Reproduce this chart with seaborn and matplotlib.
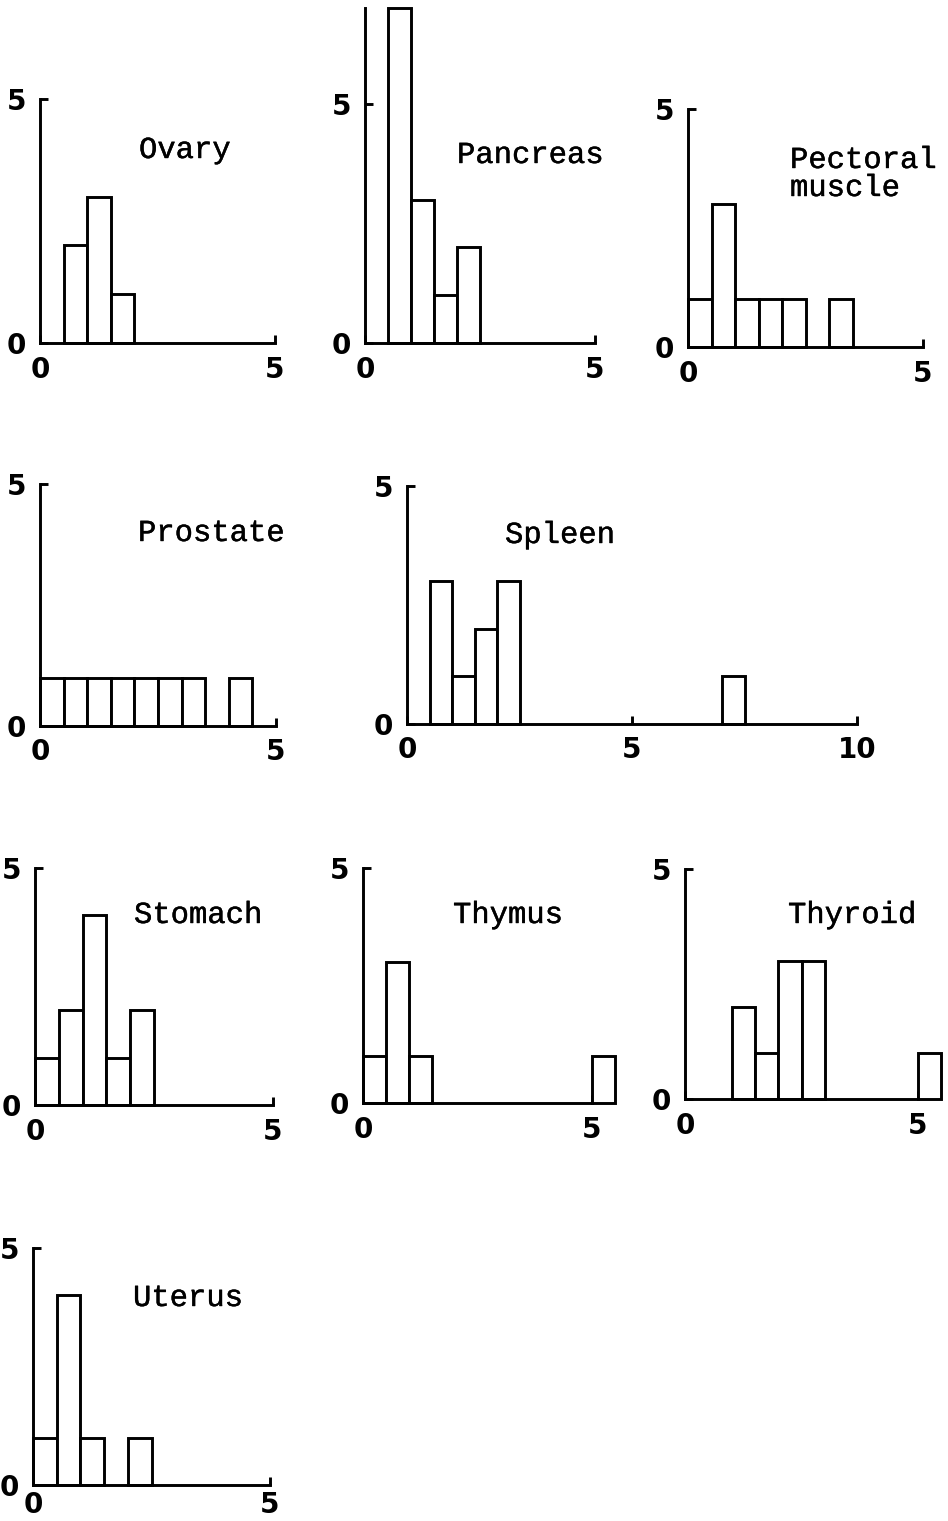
import numpy as np
import pandas as pd
import matplotlib
matplotlib.use("Agg")
import matplotlib.pyplot as plt
import matplotlib.patheffects as pe
import seaborn as sns

# ---------------- data (counts per 0.5-wide bin, starting at 0) ----------------
BIN = 0.5
tissues = ["Ovary", "Pancreas", "Pectoral\nmuscle", "Prostate", "Spleen",
           "Stomach", "Thymus", "Thyroid", "Uterus"]
ovary_counts = [0, 2, 3, 1]
pancreas_counts = [0, 7, 3, 1, 2]
pectoral_counts = [1, 3, 1, 1, 1, 0, 1]
prostate_counts = [1, 1, 1, 1, 1, 1, 1, 0, 1]
spleen_counts = [0, 3, 1, 2, 3, 0, 0, 0, 0, 0, 0, 0, 0, 0, 1]
stomach_counts = [1, 2, 4, 1, 2]
thymus_counts = [1, 3, 1, 0, 0, 0, 0, 0, 0, 0, 1]
thyroid_counts = [0, 0, 2, 1, 3, 3, 0, 0, 0, 0, 1]
uterus_counts = [1, 4, 1, 0, 1]
all_counts = [ovary_counts, pancreas_counts, pectoral_counts, prostate_counts,
              spleen_counts, stomach_counts, thymus_counts, thyroid_counts,
              uterus_counts]
x_tick_sets = [[0, 5], [0, 5], [0, 5], [0, 5], [0, 5, 10],
               [0, 5], [0, 5], [0, 5], [0, 5]]
y_ticks = [0, 5]

# ---------------- layout (pixels) ----------------
W, H = 948, 1521
# x at 0, x at axis end, axis end value, xlim max, y at 0, y at 5, ylim max
layout = [
    (40, 275, 5, 5.0, 343, 99, 5),
    (365, 595, 5, 5.0, 343, 104, 7),
    (688, 923, 5, 5.0, 347, 109, 5),
    (40, 276, 5, 5.0, 726, 484, 5),
    (407, 857, 10, 10.0, 724, 486, 5),
    (35, 273, 5, 5.0, 1105, 868, 5),
    (363, 592, 5, 5.5, 1103, 868, 5),
    (685, 918, 5, 5.5, 1099, 869, 5),
    (33, 270, 5, 5.0, 1485, 1248, 5),
]
x_pads = [9, 9, 9, 9, 9, 9, 9, 9, 4]
title_pos = [(139, 150), (457, 155), (790, 160), (138, 533), (505, 535),
             (134, 915), (453, 915), (788, 915), (133, 1298)]
LINE_GAP = 28

sns.set_style("ticks")
plt.rcParams["font.family"] = ["DejaVu Sans"]
plt.rcParams["text.color"] = "black"

fig = plt.figure(figsize=(W / 100, H / 100), dpi=100)

LW = 2.1
for i, counts in enumerate(all_counts):
    x0, xa, xend, xmax, y0, y5, ymax = layout[i]
    pxu = (xa - x0) / xend
    pyu = (y0 - y5) / 5.0
    width = pxu * xmax
    height = pyu * ymax
    ax = fig.add_axes([x0 / W, 1 - y0 / H, width / W, height / H])
    ax.patch.set_alpha(0)

    c = np.array(counts, dtype=int)
    edges = np.arange(len(c) + 1) * BIN
    centers = edges[:-1] + BIN / 2
    obs = pd.DataFrame({"value": np.repeat(centers, c)})
    sns.histplot(data=obs, x="value", binwidth=BIN, binrange=(0, edges[-1]),
                 ax=ax, color="white", edgecolor="black", linewidth=LW,
                 alpha=1)
    for p in ax.patches:
        p.set_clip_on(False)
        if p.get_height() == 0:
            p.set_visible(False)

    ax.set_xlim(0, xmax)
    ax.set_ylim(0, ymax)
    ax.set_xlabel("")
    ax.set_ylabel("")
    for s in ["top", "right"]:
        ax.spines[s].set_visible(False)
    for s in ["left", "bottom"]:
        ax.spines[s].set_linewidth(LW)
        ax.spines[s].set_color("black")
    ax.spines["left"].set_bounds(0, ymax)
    ax.spines["bottom"].set_bounds(0, xend)
    ax.set_xticks(x_tick_sets[i])
    ax.set_yticks(y_ticks)
    ax.set_xticklabels([str(t) for t in x_tick_sets[i]], fontweight="bold")
    ax.set_yticklabels([str(t) for t in y_ticks], fontweight="bold")
    ax.tick_params(axis="both", direction="in", length=6, width=LW,
                   labelsize=20, colors="black")
    ax.tick_params(axis="x", pad=x_pads[i])
    ax.tick_params(axis="y", pad=10)

    tx, ty = title_pos[i]
    for k, line in enumerate(tissues[i].split("\n")):
        fig.text(tx / W, 1 - (ty + k * LINE_GAP) / H, line, ha="left",
                 va="center", fontsize=22, color="black",
                 family=["Liberation Mono", "DejaVu Sans Mono"],
                 path_effects=[pe.withStroke(linewidth=0.3,
                                             foreground="black")])

fig.savefig("out.png", dpi=100, facecolor="white")
